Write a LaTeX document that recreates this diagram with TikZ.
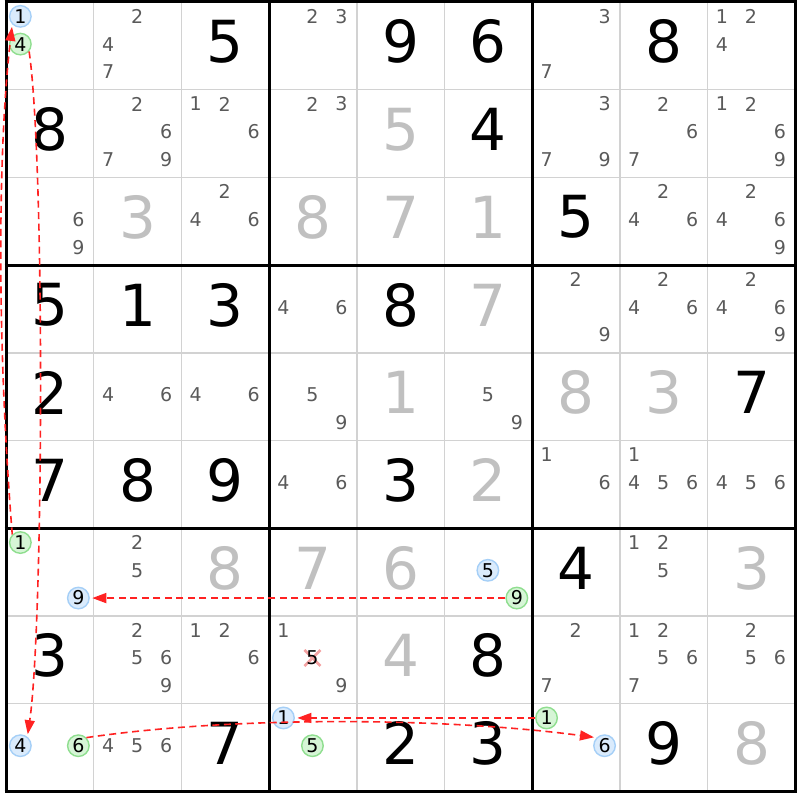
\documentclass[tikz,border=0pt]{standalone}
\usepackage{fontspec}
\setmainfont{DejaVu Sans}
\usetikzlibrary{arrows.meta}
\definecolor{candgray}{HTML}{5A5A5A}
\definecolor{solvgray}{HTML}{C0C0C0}
\definecolor{thingrid}{HTML}{D2D2D2}
\definecolor{hlbluefill}{HTML}{DAEBFC}
\definecolor{hlbluedraw}{HTML}{A5CFF7}
\definecolor{hlgreenfill}{HTML}{D6F5D6}
\definecolor{hlgreendraw}{HTML}{8FDE8F}
\definecolor{chainred}{HTML}{FF2222}
\definecolor{elimpink}{HTML}{F4A3A3}
\tikzset{
  bigdigit/.style={font=\fontsize{58}{58}\selectfont, inner sep=0pt},
  givendigit/.style={bigdigit, text=black},
  solveddigit/.style={bigdigit, text=solvgray},
  cand/.style={font=\fontsize{19}{19}\selectfont, inner sep=0pt, text=candgray},
  hlbase/.style={circle, minimum size=21.5pt, inner sep=0pt, line width=1.4pt,
    font=\fontsize{19}{19}\selectfont, text=black},
  hlblue/.style={hlbase, draw=hlbluedraw, fill=hlbluefill},
  hlgreen/.style={hlbase, draw=hlgreendraw, fill=hlgreenfill},
  thinline/.style={draw=thingrid, line width=1.5pt},
  thickline/.style={draw=black, line width=3pt},
  chain/.style={draw=chainred, line width=1.6pt, dash pattern=on 7pt off 4.5pt,
    -{Triangle[length=14pt,width=10pt]}, shorten >=2.5pt},
  elimx/.style={draw=elimpink, line width=2.6pt}
}
\begin{document}
\begin{tikzpicture}[x=1pt, y=-1pt]
\useasboundingbox (0,0) rectangle (800,800);
\fill[white] (0,0) rectangle (800,800);
% thin grid lines
\foreach \i in {1,2,4,5,7,8} {
  \draw[thinline] ({6+\i*87.7},2) -- ({6+\i*87.7},791.3);
  \draw[thinline] (6,{2+\i*87.7}) -- (795.3,{2+\i*87.7});
}
% given digits
\foreach \r/\c/\d in {1/3/5,1/5/9,1/6/6,1/8/8,2/1/8,2/6/4,3/7/5,4/1/5,4/2/1,4/3/3,4/5/8,
  5/1/2,5/9/7,6/1/7,6/2/8,6/3/9,6/5/3,7/7/4,8/1/3,8/6/8,9/3/7,9/5/2,9/6/3,9/8/9} {
  \node[givendigit] (g-\r-\c) at ({6+(\c-0.5)*87.7},{2+(\r-0.5)*87.7-4}) {\d};
}
% solved digits
\foreach \r/\c/\d in {2/5/5,3/2/3,3/4/8,3/5/7,3/6/1,4/6/7,5/5/1,5/7/8,5/8/3,6/6/2,
  7/3/8,7/4/7,7/5/6,7/9/3,8/5/4,9/9/8} {
  \node[solveddigit] (s-\r-\c) at ({6+(\c-0.5)*87.7},{2+(\r-0.5)*87.7-4}) {\d};
}
% candidates
\foreach \r/\c/\ds in {1/2/{2,4,7},1/4/{2,3},1/7/{3,7},1/9/{1,2,4},
  2/2/{2,6,7,9},2/3/{1,2,6},2/4/{2,3},2/7/{3,7,9},2/8/{2,6,7},2/9/{1,2,6,9},
  3/1/{6,9},3/3/{2,4,6},3/8/{2,4,6},3/9/{2,4,6,9},
  4/4/{4,6},4/7/{2,9},4/8/{2,4,6},4/9/{2,4,6,9},
  5/2/{4,6},5/3/{4,6},5/4/{5,9},5/6/{5,9},
  6/4/{4,6},6/7/{1,6},6/8/{1,4,5,6},6/9/{4,5,6},
  7/2/{2,5},7/8/{1,2,5},
  8/2/{2,5,6,9},8/3/{1,2,6},8/4/{1,9},8/7/{2,7},8/8/{1,2,5,6,7},8/9/{2,5,6},
  9/2/{4,5,6}} {
  \foreach \d in \ds {
    \node[cand] (c-\r-\c-\d) at
      ({6+(\c-0.5)*87.7+mod(\d-1,3)*29-29.5},{2+(\r-0.5)*87.7+int((\d-1)/3)*27.75-29.5}) {\d};
  }
}
% eliminated candidate
\coordinate (x-8-4-5) at ({6+3.5*87.7-0.5},{2+7.5*87.7-1.75});
\draw[elimx] (x-8-4-5) ++(-8,-8) -- ++(16,16);
\draw[elimx] (x-8-4-5) ++(-8,8) -- ++(16,-16);
\node[cand, text=black] (e-8-4-5) at (x-8-4-5) {5};
% highlighted candidates
\foreach \r/\c/\d/\s in {1/1/1/hlblue,1/1/4/hlgreen,7/1/1/hlgreen,7/1/9/hlblue,
  7/6/5/hlblue,7/6/9/hlgreen,9/1/4/hlblue,9/1/6/hlgreen,9/4/1/hlblue,9/4/5/hlgreen,
  9/7/1/hlgreen,9/7/6/hlblue} {
  \node[\s] (h-\r-\c-\d) at
    ({6+(\c-0.5)*87.7+mod(\d-1,3)*29-29.5},{2+(\r-0.5)*87.7+int((\d-1)/3)*27.75-29.5}) {\d};
}
% thick grid lines
\foreach \i in {0,3,6,9} {
  \draw[thickline] ({6+\i*87.7},0.5) -- ({6+\i*87.7},792.8);
  \draw[thickline] (4.5,{2+\i*87.7}) -- (796.8,{2+\i*87.7});
}
% chains
\draw[chain] (h-1-1-4.-40) .. controls +(16,110) and +(16,-110) .. (h-9-1-4.52);
\draw[chain] (h-7-1-1.135) .. controls +(-16,-200) and +(-14,120) .. (h-1-1-1.-135);
\draw[chain] (h-7-6-9.west) -- (h-7-1-9.east);
\draw[chain] (h-9-7-1.west) -- (h-9-4-1.east);
\draw[chain] (h-9-1-6.45) .. controls +(150,-22) and +(-150,-20) .. (h-9-7-6.135);
\end{tikzpicture}
\end{document}
